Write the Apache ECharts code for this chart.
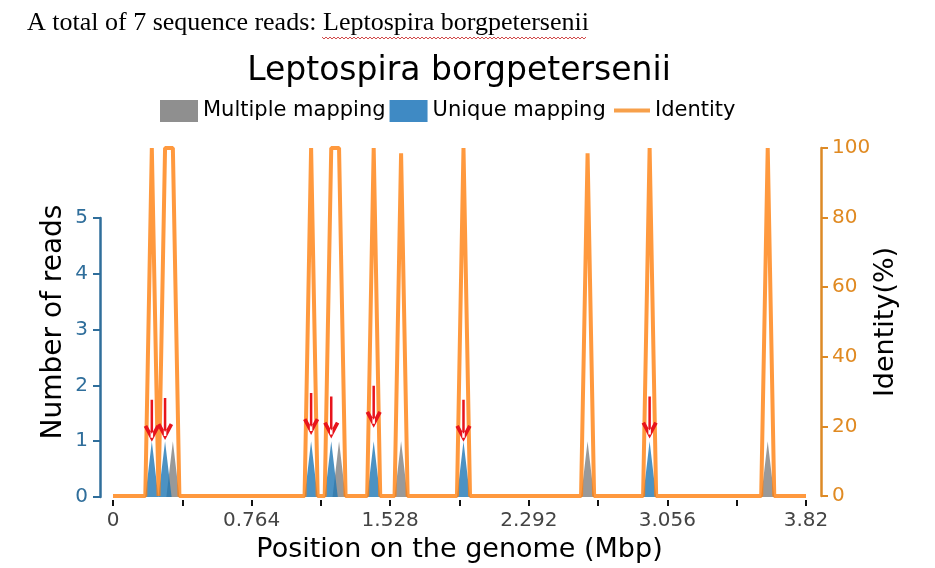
<!DOCTYPE html>
<html>
<head>
<meta charset="utf-8">
<title>Leptospira borgpetersenii</title>
<script src="https://cdn.jsdelivr.net/npm/echarts@6/dist/echarts.min.js"></script>
<style>
  html, body { margin: 0; padding: 0; background: #fff; }
  #chart { width: 935px; height: 568px; }
</style>
</head>
<body>
<div id="chart"></div>
<script>
// Reads along the genome for one species (positions in Mbp)
const headerText = "A total of 7 sequence reads: Leptospira borgpetersenii";
const chartTitle = "Leptospira borgpetersenii";
const seriesNames = ["Multiple mapping", "Unique mapping", "Identity"];

// x tick labels, one per tick (every 0.382 Mbp, label on every other)
const xTickLabels = ["0", "", "0.764", "", "1.528", "", "2.292", "", "3.056", "", "3.82"];

// Multiple mapping reads: [position, count]
const multiReads = [
  [0, 0], [0.294, 0], [0.330, 1], [0.366, 0],
  [1.210, 0], [1.246, 1], [1.282, 0],
  [1.552, 0], [1.588, 1], [1.624, 0],
  [2.580, 0], [2.616, 1], [2.652, 0],
  [3.573, 0], [3.609, 1], [3.645, 0], [3.82, 0],
];

// Unique mapping reads: [position, count]
const uniqueReads = [
  [0, 0], [0.178, 0], [0.214, 1], [0.250, 0],
  [0.251, 0], [0.287, 1], [0.323, 0],
  [1.056, 0], [1.092, 1], [1.128, 0],
  [1.167, 0], [1.203, 1], [1.239, 0],
  [1.401, 0], [1.437, 1], [1.473, 0],
  [1.896, 0], [1.932, 1], [1.968, 0],
  [2.922, 0], [2.958, 1], [2.994, 0], [3.82, 0],
];

// Identity (%): [position, identity]
const identity = [
  [0, 0], [0.178, 0], [0.214, 100], [0.251, 0], [0.287, 100], [0.330, 100], [0.366, 0],
  [1.056, 0], [1.092, 100], [1.128, 0],
  [1.167, 0], [1.203, 100], [1.246, 100], [1.282, 0],
  [1.401, 0], [1.437, 100], [1.473, 0],
  [1.552, 0], [1.588, 98.5], [1.624, 0],
  [1.896, 0], [1.932, 100], [1.968, 0],
  [2.580, 0], [2.616, 98.5], [2.652, 0],
  [2.922, 0], [2.958, 100], [2.994, 0],
  [3.573, 0], [3.609, 100], [3.645, 0], [3.82, 0],
];

// red arrows added on the unique reads: [position, tip height in reads]
const arrowTips = [
  [0.214, 0.99], [0.287, 1.02], [1.092, 1.11], [1.203, 1.05],
  [1.437, 1.24], [1.932, 0.99], [2.958, 1.05],
];

const readsColor = "#2f6e9b";
const identityAxisColor = "#dd8a26";
// shaft plus open V head, drawn as filled outlines
const arrowPath =
  "path://M13.5 0 L18.5 0 L18.5 76 L13.5 76 Z M0 54 L16 84 L32 54 L25.4 50.5 L16 68 L6.6 50.5 Z";

// red wavy spell-check underline under the species name in the header
const wavyPoints = [];
for (let x = 322, k = 0; x <= 586; x += 2, k++) {
  wavyPoints.push([x, k % 2 === 0 ? 37 : 39]);
}

const chartDom = document.getElementById("chart");
const myChart = echarts.init(chartDom);

const option = {
  animation: false,
  backgroundColor: "#fff",
  textStyle: { fontFamily: "DejaVu Sans" },
  title: [
    {
      text: headerText,
      left: 27,
      top: 10,
      padding: 0,
      textStyle: { fontFamily: "Liberation Serif", fontSize: 26, fontWeight: "normal", color: "#000" },
    },
    {
      text: chartTitle,
      left: 459,
      top: 55,
      padding: 0,
      textAlign: "center",
      textStyle: { fontFamily: "DejaVu Sans", fontSize: 33, fontWeight: "normal", color: "#000" },
    },
  ],
  graphic: [
    {
      type: "polyline",
      silent: true,
      shape: { points: wavyPoints },
      style: { stroke: "#d24a4a", lineWidth: 1, fill: null },
    },
  ],
  legend: [
    {
      data: [
        { name: seriesNames[0], icon: "rect" },
        { name: seriesNames[1], icon: "rect" },
      ],
      left: 160,
      top: 100,
      padding: 0,
      itemWidth: 38,
      itemHeight: 22,
      itemGap: 4,
      textStyle: { fontSize: 21, color: "#000", fontFamily: "DejaVu Sans" },
    },
    {
      data: [{ name: seriesNames[2], icon: "rect" }],
      left: 614,
      top: 100,
      padding: 0,
      itemWidth: 36,
      itemHeight: 4,
      textStyle: { fontSize: 21, color: "#000", fontFamily: "DejaVu Sans" },
    },
  ],
  grid: [
    { left: 113, right: 129, top: 148, bottom: 71 },
    { left: 113, right: 129, top: 218, bottom: 71 },
  ],
  xAxis: [
    {
      type: "value",
      gridIndex: 0,
      min: 0,
      max: 3.82,
      interval: 0.382,
      offset: 4,
      axisLine: { show: false, onZero: false },
      axisTick: { show: true, length: 6, lineStyle: { color: "#111", width: 2 } },
      axisLabel: {
        color: "#444",
        fontSize: 20,
        margin: 11,
        formatter: function (value, index) {
          return xTickLabels[index] !== undefined ? xTickLabels[index] : "";
        },
      },
      splitLine: { show: false },
      name: "Position on the genome (Mbp)",
      nameLocation: "middle",
      nameGap: 36,
      nameTextStyle: { fontSize: 27, color: "#000" },
    },
    {
      type: "value",
      gridIndex: 1,
      min: 0,
      max: 3.82,
      show: false,
    },
  ],
  yAxis: [
    // reads axis, its spine only spans 0..5
    {
      type: "value",
      gridIndex: 1,
      position: "left",
      min: 0,
      max: 5,
      interval: 1,
      offset: 13,
      axisLine: { show: true, onZero: false, lineStyle: { color: readsColor, width: 2.5 } },
      axisTick: { show: true, length: 7, lineStyle: { color: readsColor, width: 2 } },
      axisLabel: { color: readsColor, fontSize: 20, margin: 12 },
      splitLine: { show: false },
    },
    // identity axis
    {
      type: "value",
      gridIndex: 0,
      position: "right",
      min: 0,
      max: 100,
      interval: 20,
      offset: 15,
      axisLine: { show: true, onZero: false, lineStyle: { color: identityAxisColor, width: 2.5 } },
      axisTick: { show: true, length: 7, lineStyle: { color: identityAxisColor, width: 2 } },
      axisLabel: { color: "#e08a22", fontSize: 20, margin: 11 },
      splitLine: { show: false },
      name: "Identity(%)",
      nameLocation: "middle",
      nameGap: 51,
      nameMoveOverlap: false,
      nameTextStyle: { fontSize: 27, color: "#000" },
    },
    // holds the reads axis title, centred on the whole plot
    {
      type: "value",
      gridIndex: 0,
      position: "left",
      min: 0,
      max: 100,
      offset: 13,
      axisLine: { show: false, onZero: false },
      axisTick: { show: false },
      axisLabel: { show: false },
      splitLine: { show: false },
      name: "Number of reads",
      nameLocation: "middle",
      nameGap: 32,
      nameTextStyle: { fontSize: 28, color: "#000" },
    },
  ],
  series: [
    {
      name: seriesNames[0],
      type: "line",
      xAxisIndex: 1,
      yAxisIndex: 0,
      data: multiReads,
      symbol: "none",
      z: 2,
      lineStyle: { width: 0 },
      itemStyle: { color: "#8f8f8f" },
      areaStyle: { color: "#7f7f7f", opacity: 0.8 },
    },
    {
      name: seriesNames[1],
      type: "line",
      xAxisIndex: 1,
      yAxisIndex: 0,
      data: uniqueReads,
      symbol: "none",
      z: 2,
      lineStyle: { width: 0 },
      itemStyle: { color: "#3f8ac4" },
      areaStyle: { color: "#1f77b4", opacity: 0.8 },
    },
    {
      name: seriesNames[2],
      type: "line",
      xAxisIndex: 0,
      yAxisIndex: 1,
      data: identity,
      symbol: "none",
      z: 3,
      itemStyle: { color: "#f7a04a" },
      lineStyle: { color: "#ff7f0e", opacity: 0.8, width: 4 },
    },
    {
      name: "arrows",
      type: "scatter",
      xAxisIndex: 1,
      yAxisIndex: 0,
      data: arrowTips,
      symbol: arrowPath,
      symbolSize: [16, 42],
      symbolOffset: [0, "-50%"],
      silent: true,
      z: 5,
      itemStyle: { color: "#e8141c", opacity: 1 },
    },
  ],
};

myChart.setOption(option);
</script>
</body>
</html>
